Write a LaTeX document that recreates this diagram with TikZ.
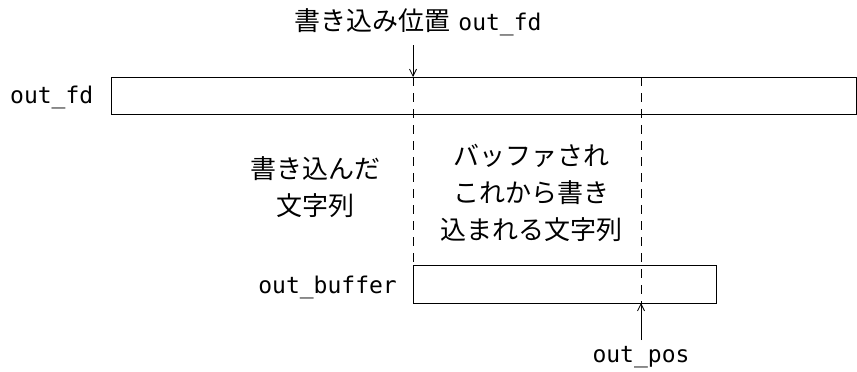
\documentclass[tikz,border=0pt]{standalone}
\usepackage{fontspec}
\setmainfont{Noto Sans CJK JP}
\setmonofont{DejaVu Sans Mono}
\newfontfamily\cjk{Noto Sans CJK JP}
\usetikzlibrary{arrows.meta}
\begin{document}
\begin{tikzpicture}[x=1pt,y=-1pt,
  boxstyle/.style={draw,line width=0.9pt},
  guide/.style={line width=0.8pt,dash pattern=on 9pt off 7pt},
  pointer/.style={-{Straight Barb[length=7pt,width=7pt]},line width=0.8pt},
  monolabel/.style={font=\fontsize{23}{28}\selectfont\ttfamily,inner sep=0pt},
  cjklabel/.style={font=\fontsize{26}{37}\selectfont\cjk,inner sep=0pt,align=center}]
\useasboundingbox (0,0) rectangle (857,372);
\draw[boxstyle] (111,77) rectangle (856,114);
\draw[boxstyle] (413,265) rectangle (716,303);
\coordinate (w) at (413,77);
\coordinate (wtop) at (413,45);
\coordinate (wb) at (413,265);
\coordinate (p) at (641,303);
\coordinate (pbot) at (641,340);
\coordinate (pt) at (641,77);
\draw[guide] (w) -- (wb);
\draw[guide] (pt) -- (p);
\draw[pointer] (wtop) -- (w);
\draw[pointer] (pbot) -- (p);
\node[inner sep=0pt] (top) at (418,22) {{\fontsize{26}{30}\selectfont\cjk 書き込み位置}\hspace{8pt}{\fontsize{23}{28}\selectfont\ttfamily out\_fd}};
\node[monolabel,anchor=west] (fd) at (10,97) {out\_fd};
\node[monolabel,anchor=east] (buf) at (397,287) {out\_buffer};
\node[monolabel] (pos) at (641,357) {out\_pos};
\node[cjklabel] (done) at (315,187) {書き込んだ\\文字列};
\node[cjklabel] (pend) at (531,193) {バッファされ\\これから書き\\込まれる文字列};
\end{tikzpicture}
\end{document}
